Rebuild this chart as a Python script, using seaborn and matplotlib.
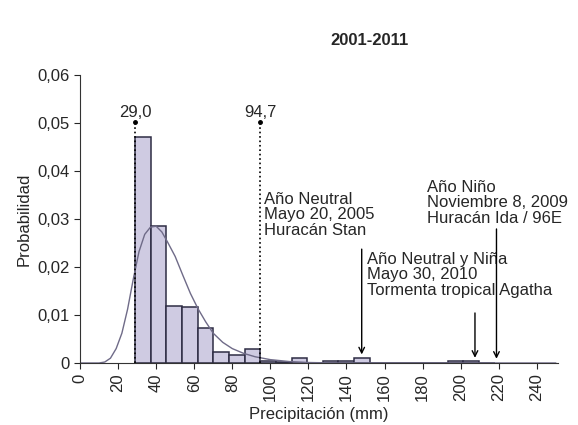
import numpy as np
import pandas as pd
import seaborn as sns
import matplotlib.pyplot as plt
from matplotlib.ticker import FuncFormatter

# Bordes de clase (mm) y probabilidad de cada barra
bordes = [29.0, 37.21, 45.43, 53.64, 61.85, 70.06, 78.28, 86.49, 94.7,
          102.91, 111.13, 119.34, 127.55, 135.76, 143.98, 152.19, 160.40,
          168.61, 176.83, 185.04, 193.25, 201.46, 209.68, 217.89]
probabilidad = [0.0471, 0.0286, 0.0119, 0.0117, 0.0073, 0.0023, 0.0017, 0.0029,
                0.0004, 0.0002, 0.0011, 0.0, 0.0004, 0.0004, 0.0011, 0.0,
                0.0, 0.0, 0.0, 0.0, 0.0004, 0.0004, 0.0]
probabilidad = probabilidad[:len(bordes) - 1]

# Curva ajustada
curva_x = [0, 10, 13, 16, 19, 22, 25, 28, 31, 34, 37, 40, 43, 46, 50, 54, 58,
           62, 66, 70, 75, 80, 86, 92, 100, 110, 120, 135, 150, 250]
curva_y = [0, 0, 0.0002, 0.001, 0.003, 0.0062, 0.0112, 0.0175, 0.0232, 0.0268,
           0.0283, 0.0285, 0.0273, 0.0252, 0.0222, 0.0183, 0.0145, 0.0113,
           0.0086, 0.0062, 0.0043, 0.003, 0.002, 0.0013, 0.0007, 0.0003,
           0.0001, 0, 0, 0]

# Umbrales marcados
umbrales = [29.0, 94.7]
umbrales_txt = ['29,0', '94,7']

# Eventos anotados: texto, x del texto, y del texto, x de la flecha, y inicio flecha
eventos_txt = ['Año Neutral\nMayo 20, 2005\nHuracán Stan',
               'Año Neutral y Niña\nMayo 30, 2010\nTormenta tropical Agatha',
               'Año Niño\nNoviembre 8, 2009\nHuracán Ida / 96E']
eventos_texto_x = [96.5, 151.0, 182.5]
eventos_texto_y = [0.0357, 0.0232, 0.0382]
eventos_flecha_x = [148.0, 207.5, 218.8]
eventos_flecha_y0 = [0.0243, 0.0110, 0.0285]
eventos_flecha_y1 = [0.0012, 0.0005, 0.0003]

centros = [(bordes[i] + bordes[i + 1]) / 2 for i in range(len(bordes) - 1)]
df = pd.DataFrame({'Precipitacion': centros, 'Probabilidad': probabilidad})

sns.set_style('ticks')
plt.rcParams['font.family'] = ['Liberation Sans', 'DejaVu Sans']

fig = plt.figure(figsize=(5.78, 4.25), dpi=100)
ax = fig.add_axes([0.1384, 0.1459, 0.8266, 0.6776])

sns.histplot(data=df, x='Precipitacion', weights='Probabilidad', bins=bordes,
             stat='count', color='#cfcbe2', alpha=1, edgecolor='#2e2c44',
             linewidth=1.1, ax=ax)
sns.lineplot(x=curva_x, y=curva_y, color='#6f6b88', linewidth=1.0, ax=ax)

# Lineas punteadas de umbral
for u, t in zip(umbrales, umbrales_txt):
    ax.vlines(u, 0, 0.0502, colors='black', linestyles=':', linewidth=1.2)
    ax.plot([u], [0.0502], marker='o', color='black', markersize=2.5)
    ax.text(u, 0.0512, t, ha='center', va='baseline', fontsize=12)

# Anotaciones
for txt, tx, ty, fx, fy0, fy1 in zip(eventos_txt, eventos_texto_x, eventos_texto_y,
                                     eventos_flecha_x, eventos_flecha_y0, eventos_flecha_y1):
    ax.text(tx, ty, txt, ha='left', va='top', fontsize=12, linespacing=1.05)
    ax.annotate('', xy=(fx, fy1), xytext=(fx, fy0),
                arrowprops=dict(arrowstyle='->', color='black', lw=1.0))

ax.set_xlim(0, 251)
ax.set_ylim(0, 0.06)
ax.set_xticks(np.arange(0, 241, 20))
ax.set_yticks([0, 0.01, 0.02, 0.03, 0.04, 0.05, 0.06])
ax.yaxis.set_major_formatter(FuncFormatter(lambda v, p: '0' if v == 0 else f'{v:.2f}'.replace('.', ',')))
ax.tick_params(axis='x', labelrotation=90, labelsize=12, length=4)
ax.tick_params(axis='y', labelsize=12, length=4)
ax.set_xlabel('Precipitación (mm)', fontsize=12)
ax.set_ylabel('Probabilidad', fontsize=12)
sns.despine(ax=ax)
for s in ['left', 'bottom']:
    ax.spines[s].set_color('#333333')

fig.text(0.64, 0.905, '2001-2011', ha='center', va='center', fontsize=12, fontweight='bold')

plt.savefig('out.png', dpi=100)
